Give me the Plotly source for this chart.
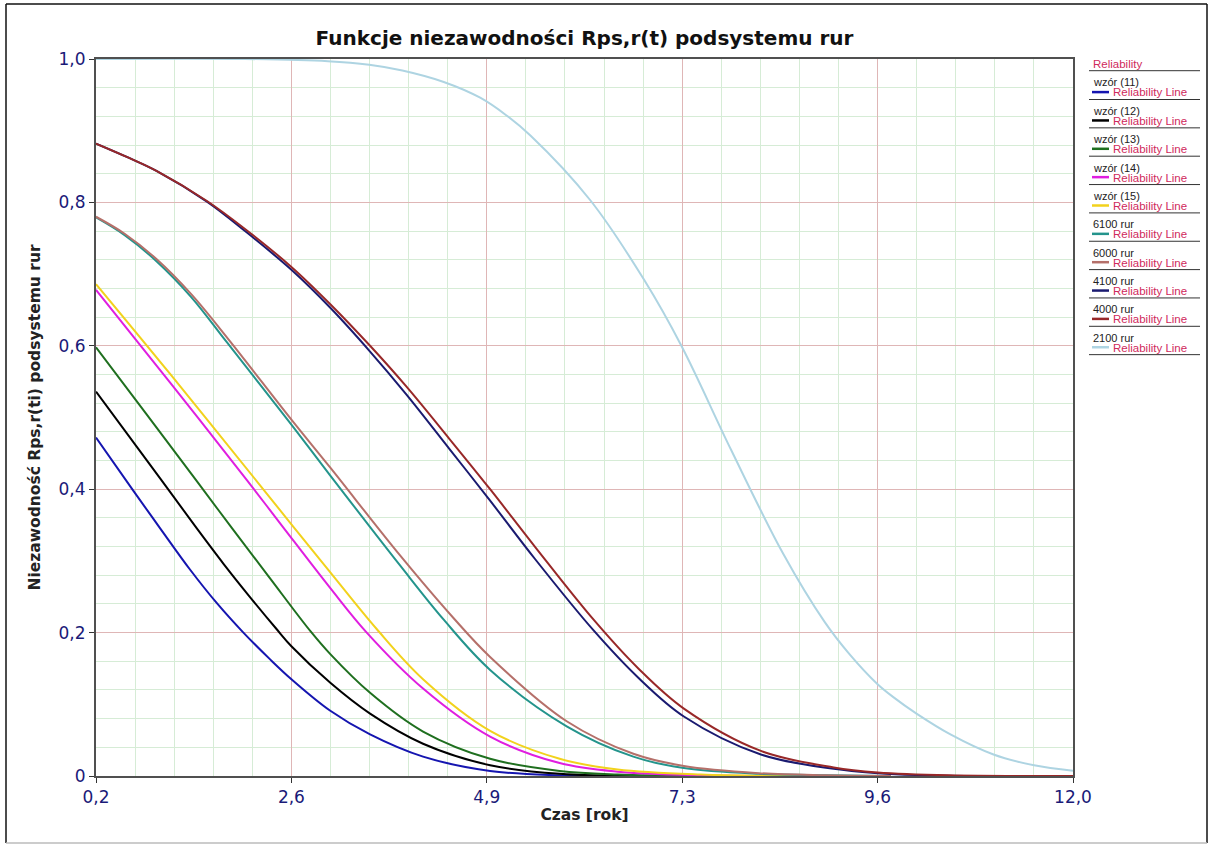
import plotly.graph_objects as go

# ---------------- data ----------------
t_w11 = [0.2, 0.65, 0.99, 1.335, 1.66, 1.98, 2.30, 2.56, 3.03, 3.51, 4.15, 4.96, 5.8, 6.5]
r_w11 = [0.472, 0.398, 0.343, 0.288, 0.241, 0.200, 0.163, 0.135, 0.091, 0.058, 0.027, 0.007, 0.001, 0.0]

t_w12 = [0.2, 0.7, 1.07, 1.42, 1.74, 2.05, 2.38, 2.56, 3.03, 3.51, 4.15, 4.96, 5.8, 6.8]
r_w12 = [0.536, 0.458, 0.400, 0.345, 0.296, 0.251, 0.205, 0.181, 0.130, 0.087, 0.045, 0.015, 0.003, 0.0]

t_w13 = [0.2, 0.8, 1.42, 1.84, 2.30, 2.79, 3.03, 3.51, 4.15, 4.96, 5.8, 6.5, 7.5]
r_w13 = [0.598, 0.506, 0.411, 0.346, 0.276, 0.202, 0.170, 0.116, 0.062, 0.024, 0.007, 0.002, 0.0]

t_w14 = [0.2, 1.1, 2.02, 2.44, 3.03, 3.47, 4.15, 4.96, 5.8, 6.5, 7.5, 8.5]
r_w14 = [0.678, 0.548, 0.413, 0.350, 0.262, 0.200, 0.122, 0.055, 0.018, 0.006, 0.001, 0.0]

t_w15 = [0.2, 1.1, 2.15, 2.56, 3.03, 3.59, 4.15, 4.96, 5.8, 6.5, 7.5, 8.8]
r_w15 = [0.686, 0.560, 0.410, 0.351, 0.284, 0.205, 0.135, 0.063, 0.024, 0.009, 0.002, 0.0]

t_6100 = [0.2, 0.55, 0.93, 1.35, 1.78, 2.56, 3.03, 3.87, 4.40, 4.96, 5.89, 6.69, 7.30, 8.2, 9.0, 9.8]
r_6100 = [0.779, 0.754, 0.718, 0.668, 0.605, 0.490, 0.419, 0.294, 0.218, 0.148, 0.069, 0.027, 0.011, 0.003, 0.001, 0.0]

t_6000 = [0.2, 0.55, 0.93, 1.35, 1.80, 2.56, 3.03, 3.87, 4.52, 4.96, 5.89, 6.69, 7.30, 8.2, 9.0, 9.8]
r_6000 = [0.780, 0.756, 0.721, 0.672, 0.609, 0.497, 0.430, 0.308, 0.220, 0.166, 0.076, 0.031, 0.014, 0.004, 0.001, 0.0]

t_4100 = [0.2, 0.6, 0.93, 1.54, 2.0, 2.56, 3.03, 3.51, 3.95, 4.47, 4.96, 5.5, 6.21, 6.75, 7.30, 8.23, 9.11, 9.64, 10.2, 10.8]
r_4100 = [0.882, 0.862, 0.844, 0.801, 0.760, 0.706, 0.653, 0.592, 0.532, 0.456, 0.384, 0.303, 0.203, 0.137, 0.083, 0.030, 0.010, 0.004, 0.001, 0.0]

t_4000 = [0.2, 0.6, 0.93, 1.54, 2.0, 2.56, 3.03, 3.51, 3.95, 4.47, 4.96, 5.5, 6.21, 6.75, 7.30, 8.23, 9.11, 9.64, 10.5, 12.0]
r_4000 = [0.882, 0.862, 0.844, 0.802, 0.763, 0.710, 0.658, 0.600, 0.543, 0.470, 0.400, 0.320, 0.218, 0.150, 0.094, 0.035, 0.012, 0.005, 0.001, 0.0]

t_2100 = [0.2, 2.0, 3.0, 3.5, 3.9, 4.4, 4.84, 5.15, 5.45, 6.17, 6.82, 7.27, 7.87, 8.5, 9.0, 9.3, 9.64, 9.83, 10.11, 10.52, 11.04, 11.53, 12.0]
r_2100 = [1.0, 1.0, 0.997, 0.992, 0.984, 0.968, 0.946, 0.922, 0.893, 0.803, 0.692, 0.600, 0.455, 0.310, 0.215, 0.170, 0.128, 0.110, 0.087, 0.058, 0.030, 0.015, 0.0074]

series_names = ["wzór (11)", "wzór (12)", "wzór (13)", "wzór (14)", "wzór (15)",
                "6100 rur", "6000 rur", "4100 rur", "4000 rur", "2100 rur"]
series_t = [t_w11, t_w12, t_w13, t_w14, t_w15, t_6100, t_6000, t_4100, t_4000, t_2100]
series_r = [r_w11, r_w12, r_w13, r_w14, r_w15, r_6100, r_6000, r_4100, r_4000, r_2100]
series_colors = ["#1515b0", "#000000", "#1f6f1f", "#e01ee0", "#f2d21c",
                 "#24948c", "#b5706a", "#1a1a70", "#982828", "#aed4e2"]

x_tickvals = [0.2, 2.56, 4.92, 7.28, 9.64, 12.0]
x_ticktext = ["0,2", "2,6", "4,9", "7,3", "9,6", "12,0"]
y_tickvals = [0, 0.2, 0.4, 0.6, 0.8, 1.0]
y_ticktext = ["0", "0,2", "0,4", "0,6", "0,8", "1,0"]

# ---------------- geometry (screen pixels; body margin removed below) ----------------
W, H = 1213, 845
SX0, SX1, SY0, SY1 = 96, 1073, 59, 776        # plot box
L, T, R, B = SX0, SY0, W - SX1, H - SY1
PW, PH = SX1 - SX0, SY1 - SY0


def px(x):
    return (x - SX0) / PW


def py(y):
    return (SY1 - y) / PH


fig = go.Figure()
for name, tt, rr, col in zip(series_names, series_t, series_r, series_colors):
    fig.add_trace(go.Scatter(x=tt, y=rr, mode="lines", name=name,
                             line=dict(color=col, width=2, shape="spline", smoothing=1.0),
                             showlegend=False))

base_font = "DejaVu Sans, Verdana, sans-serif"
tick_font = dict(family=base_font, size=17, color="#1a1a78")
fig.update_xaxes(range=[0.2, 12.0], tickvals=x_tickvals, ticktext=x_ticktext,
                 tickfont=tick_font, showgrid=True, gridcolor="#dfb6b6", gridwidth=1,
                 zeroline=False, showline=True, linecolor="#505050", linewidth=2, mirror=True,
                 ticks="outside", ticklen=5, tickcolor="#333", layer="below traces",
                 minor=dict(tickmode="linear", tick0=0.2, dtick=0.472, showgrid=True,
                            gridcolor="#d6ecd6", gridwidth=1),
                 title=dict(text="Czas [rok]", standoff=3,
                            font=dict(family=base_font, size=15.5, color="#222", weight="bold")))
fig.update_yaxes(range=[0, 1.0], tickvals=y_tickvals, ticktext=y_ticktext,
                 tickfont=tick_font, showgrid=True, gridcolor="#dfb6b6", gridwidth=1,
                 zeroline=False, showline=True, linecolor="#505050", linewidth=2, mirror=True,
                 ticks="outside", ticklen=5, tickcolor="#333", layer="below traces",
                 minor=dict(tickmode="linear", tick0=0, dtick=0.04, showgrid=True,
                            gridcolor="#d6ecd6", gridwidth=1),
                 title=dict(text="Niezawodność Rps,r(ti) podsystemu rur", standoff=14,
                            font=dict(family=base_font, size=15.5, color="#222", weight="bold")))

fig.update_layout(
    width=W, height=H, autosize=False,
    margin=dict(l=L, r=R, t=T, b=B),
    paper_bgcolor="white", plot_bgcolor="white",
    title=dict(text="<b>Funkcje niezawodności Rps,r(t) podsystemu rur</b>",
               x=0.5, xref="paper", xanchor="center", y=1 - 38 / H, yref="container",
               yanchor="middle", font=dict(family=base_font, size=20, color="#111")),
    showlegend=False,
)

# ---------------- custom legend (right side) ----------------
crimson = "#d02a5c"
leg_font = "Liberation Sans, Arial, sans-serif"
shapes = []
annots = []
annots.append(dict(x=px(1091), y=py(64), xref="paper", yref="paper", text="Reliability",
                   showarrow=False, xanchor="left", yanchor="middle",
                   font=dict(family=leg_font, size=11.5, color=crimson)))
shapes.append(dict(type="line", xref="paper", yref="paper", x0=px(1089), x1=px(1200),
                   y0=py(70.7), y1=py(70.7), line=dict(color="#333", width=1)))
for k, (name, col) in enumerate(zip(series_names, series_colors)):
    yh = 82.5 + k * 28.35
    annots.append(dict(x=px(1091), y=py(yh), xref="paper", yref="paper", text=name,
                       showarrow=False, xanchor="left", yanchor="middle",
                       font=dict(family=leg_font, size=11, color="#222")))
    shapes.append(dict(type="line", xref="paper", yref="paper", x0=px(1092), x1=px(1109),
                       y0=py(yh + 9.6), y1=py(yh + 9.6), line=dict(color=col, width=2.5)))
    annots.append(dict(x=px(1111), y=py(yh + 10), xref="paper", yref="paper", text="Reliability Line",
                       showarrow=False, xanchor="left", yanchor="middle",
                       font=dict(family=leg_font, size=11.5, color=crimson)))
    shapes.append(dict(type="line", xref="paper", yref="paper", x0=px(1089), x1=px(1200),
                       y0=py(yh + 17), y1=py(yh + 17), line=dict(color="#333", width=1)))

# outer frame of the picture
frame = dict(xref="paper", yref="paper", type="line", layer="below")
shapes.append(dict(frame, x0=px(6), x1=px(6), y0=py(4), y1=py(843), line=dict(color="#111", width=1.5)))
shapes.append(dict(frame, x0=px(6), x1=px(1207), y0=py(4), y1=py(4), line=dict(color="#111", width=1.5)))
shapes.append(dict(frame, x0=px(1207), x1=px(1207), y0=py(4), y1=py(843), line=dict(color="#111", width=1.5)))
shapes.append(dict(frame, x0=px(6), x1=px(1207), y0=py(843), y1=py(843), line=dict(color="#bbb", width=1.5)))

fig.update_layout(shapes=shapes, annotations=annots)
fig.write_html("out.html", config={"displayModeBar": False},
               post_script="document.body.style.margin='0px';")
